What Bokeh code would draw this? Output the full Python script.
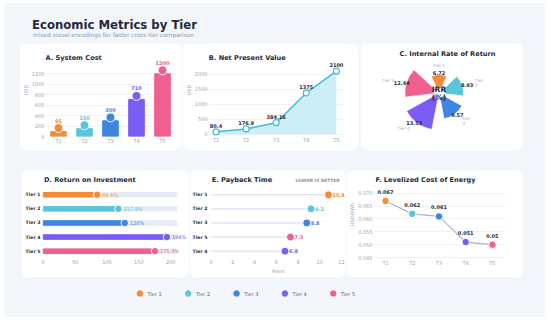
import numpy as np
from bokeh.plotting import figure
from bokeh.models import Range1d, FactorRange, Div, Spacer, FixedTicker, NumeralTickFormatter
from bokeh.layouts import column, row
from bokeh.embed import file_html
from bokeh.resources import INLINE
from bokeh.core.properties import value

# ---------------- data ----------------
tiers = ["T1", "T2", "T3", "T4", "T5"]
tier_names = ["Tier 1", "Tier 2", "Tier 3", "Tier 4", "Tier 5"]
colors = ["#f28c38", "#5bc5dc", "#3f86e0", "#7b5cf5", "#f0608e"]
system_cost = [95, 150, 300, 710, 1200]
npv = [80.4, 176.9, 384.16, 1375, 2100]
irr = [6.72, 8.93, 9.57, 13.53, 12.44]
roi = [84.6, 117.9, 128, 194, 175.3]
payback = [10.8, 9.2, 8.8, 6.8, 7.3]
lcoe = [0.067, 0.062, 0.061, 0.051, 0.05]

cost_ticks = [0, 200, 400, 600, 800, 1000, 1200]
npv_ticks = [0, 500, 1000, 1500, 2000]
roi_ticks = [0, 50, 100, 150, 200]
payback_ticks = [0, 2, 4, 6, 8, 10, 12]
lcoe_ticks = [0.045, 0.05, 0.055, 0.06, 0.065, 0.07]

FONT = "DejaVu Sans"
DARK = "#1f2a3d"
GREY = "#9aa3b2"
GRID = "#eef1f6"
PANEL = "#f3f6fb"


def base_fig(w, h, **kw):
    p = figure(width=w, height=h, output_backend="svg", toolbar_location=None, **kw)
    p.border_fill_color = "white"
    p.background_fill_color = "white"
    p.outline_line_color = None
    p.styles = {"border-radius": "8px", "overflow": "hidden"}
    return p


def text_title(p, x, y, text, x_off, y_off, align="left"):
    p.text(x=[x], y=[y], text=[text], x_offset=x_off, y_offset=y_off, text_align=align,
           text_baseline="alphabetic", text_font=value(FONT), text_font_size="6.6px",
           text_font_style="bold", text_color=DARK)


def style_axes(p):
    for ax in p.axis:
        ax.axis_line_color = None
        ax.major_tick_line_color = None
        ax.minor_tick_line_color = None
        ax.major_tick_out = 0
        ax.major_tick_in = 0
        ax.minor_tick_out = 0
        ax.minor_tick_in = 0
        ax.major_label_text_font = FONT
        ax.major_label_text_font_size = "5px"
        ax.major_label_text_color = GREY
        ax.major_label_standoff = 1
        ax.axis_label_text_font = FONT
        ax.axis_label_text_font_size = "5px"
        ax.axis_label_text_color = GREY
        ax.axis_label_text_font_style = "normal"
        ax.axis_label_standoff = 0
    p.grid.grid_line_color = GRID


idx = list(range(len(tiers)))
tick_map = {i: t for i, t in zip(idx, tiers)}

# ---------------- A. System Cost ----------------
pA = base_fig(163, 107, x_range=FactorRange(*tiers), y_range=Range1d(0, 1780),
              min_border_left=24, min_border_right=7, min_border_top=0, min_border_bottom=14)
pA.vbar(x=tiers, top=system_cost, width=0.6, color=colors)
marker_y = [c + 0.055 * max(system_cost) for c in system_cost]
pA.scatter(x=tiers, y=marker_y, size=9, fill_color=colors, line_color="white", line_width=1)
pA.text(x=tiers, y=system_cost, text=[str(c) for c in system_cost], y_offset=-11,
        text_align="center", text_baseline="middle", text_font=value(FONT),
        text_font_size="5px", text_font_style="bold", text_color=colors)
text_title(pA, 0, pA.y_range.end, "A. System Cost", 0, 14.3)
style_axes(pA)
pA.yaxis.ticker = FixedTicker(ticks=cost_ticks)
pA.yaxis.axis_label = "USD"
pA.xgrid.grid_line_color = None

# ---------------- B. Net Present Value ----------------
pB = base_fig(176, 107, x_range=Range1d(-0.25, 4.27), y_range=Range1d(-75, 3020),
              min_border_left=26, min_border_right=14, min_border_top=0, min_border_bottom=12)
cyan_line = "#4bb8d3"
pB.varea(x=idx, y1=0, y2=npv, fill_color="#cdeef7")
pB.line(idx, npv, line_color=cyan_line, line_width=1.5)
pB.scatter(idx, npv, size=6, fill_color="white", line_color=cyan_line, line_width=1.2)
pB.text(idx, npv, text=[f"{v:g}" for v in npv], y_offset=-6,
        text_align="center", text_baseline="middle", text_font=value(FONT),
        text_font_size="5px", text_font_style="bold", text_color=DARK)
text_title(pB, pB.x_range.start, pB.y_range.end, "B. Net Present Value", 0.3, 14.3)
style_axes(pB)
pB.yaxis.ticker = FixedTicker(ticks=npv_ticks)
pB.yaxis.axis_label = "USD"
pB.xaxis.ticker = FixedTicker(ticks=idx)
pB.xaxis.major_label_overrides = tick_map
pB.xaxis.major_label_standoff = 0
pB.xgrid.grid_line_color = None

# ---------------- C. Internal Rate of Return ----------------
pC = base_fig(163, 107, x_range=Range1d(-28.55, 30.73), y_range=Range1d(-18.18, 20.73),
              min_border_left=0, min_border_right=0, min_border_top=0, min_border_bottom=0)
pC.axis.visible = False
pC.grid.grid_line_color = None
ang = np.deg2rad(90 - 72 * np.array(idx))
half = np.deg2rad(25)
irr_arr = np.array(irr)
pC.annular_wedge(x=0, y=0, inner_radius=1.8, outer_radius=irr, start_angle=ang - half,
                 end_angle=ang + half, fill_color=colors, line_color="white", line_width=0.8)
rv = irr_arr + 1.8
pC.text(x=rv * np.cos(ang), y=rv * np.sin(ang), text=[f"{v:g}" for v in irr],
        text_align="center", text_baseline="middle", text_font=value(FONT),
        text_font_size="5px", text_font_style="bold", text_color=DARK)
rt = irr_arr + 4.8
cosv = np.cos(ang)
t_align = ["center" if abs(c) < 0.3 else ("left" if c > 0 else "right") for c in cosv]
t_text = [n.replace(" ", "\n") if c > 0.3 else n for n, c in zip(tier_names, cosv)]
pC.text(x=rt * np.cos(ang), y=rt * np.sin(ang), text=t_text, text_align=t_align,
        text_baseline="middle", text_font=value(FONT), text_font_size="4.3px",
        text_color="#a3abb8", text_line_height=1.1)
pC.text(x=[0, 0], y=[0, 0], text=["IRR", "(%)"], y_offset=[-3.5, 4.5],
        text_align="center", text_baseline="middle", text_font=value(FONT),
        text_font_size="7.5px", text_font_style="bold", text_color=DARK)
c_mid = (pC.x_range.start + pC.x_range.end) / 2
text_title(pC, c_mid, pC.y_range.end, "C. Internal Rate of Return", 5.5, 10.3, align="center")

# ---------------- D. Return on Investment ----------------
ypos_d = list(range(len(tier_names)))[::-1]
pD = base_fig(168, 107, x_range=Range1d(-1.1, 229.4), y_range=Range1d(-0.52, 5.72),
              min_border_left=21, min_border_right=0, min_border_top=0, min_border_bottom=19)
track = max(roi) * 1.08
pD.hbar(y=ypos_d, left=0, right=track, height=0.32, color="#e7ecf4")
pD.hbar(y=ypos_d, left=0, right=roi, height=0.32, color=colors)
pD.scatter(x=roi, y=ypos_d, size=7.5, fill_color=colors, line_color="white", line_width=1)
pD.text(x=roi, y=ypos_d, text=[f"{v:g}%" for v in roi], x_offset=5,
        text_align="left", text_baseline="middle", text_font=value(FONT),
        text_font_size="5px", text_color=colors)
text_title(pD, pD.x_range.start, pD.y_range.end, "D. Return on Investment", 1.5, 9.5)
style_axes(pD)
pD.grid.grid_line_color = None
pD.xaxis.ticker = FixedTicker(ticks=roi_ticks)
pD.yaxis.ticker = FixedTicker(ticks=ypos_d)
pD.yaxis.major_label_overrides = {y: n for y, n in zip(ypos_d, tier_names)}
pD.yaxis.major_label_text_font_style = "bold"
pD.yaxis.major_label_text_color = DARK
pD.yaxis.major_label_text_font_size = "4.6px"
pD.yaxis.major_label_standoff = 2

# ---------------- E. Payback Time ----------------
order = sorted(idx, key=lambda i: payback[i], reverse=True)
e_names = [tier_names[i] for i in order]
e_vals = [payback[i] for i in order]
e_cols = [colors[i] for i in order]
ypos = list(range(len(order)))[::-1]
pE = base_fig(157, 107, x_range=Range1d(-0.15, 12.46), y_range=Range1d(-0.52, 5.72),
              min_border_left=17, min_border_right=0, min_border_top=0, min_border_bottom=19)
pE.segment(x0=0, y0=ypos, x1=e_vals, y1=ypos, line_color="#e3e8f0", line_width=1.5)
pE.scatter(e_vals, ypos, size=8, fill_color=e_cols, line_color="white", line_width=1)
pE.text(e_vals, ypos, text=[f"{v:g}" for v in e_vals], x_offset=4,
        text_align="left", text_baseline="middle", text_font=value(FONT),
        text_font_size="5px", text_font_style="bold", text_color=e_cols)
text_title(pE, pE.x_range.start, pE.y_range.end, "E. Payback Time", 2.3, 9.5)
pE.text(x=[9.8], y=[pE.y_range.end], text=["LOWER IS BETTER"], y_offset=10,
        text_align="center", text_baseline="middle", text_font=value(FONT),
        text_font_size="4.4px", text_font_style="bold", text_color="#8b95a5")
style_axes(pE)
pE.grid.grid_line_color = None
pE.xaxis.ticker = FixedTicker(ticks=payback_ticks)
pE.xaxis.axis_label = "Years"
pE.xaxis.axis_label_standoff = 1
pE.yaxis.ticker = FixedTicker(ticks=ypos)
pE.yaxis.major_label_overrides = {y: n for y, n in zip(ypos, e_names)}
pE.yaxis.major_label_text_font_style = "bold"
pE.yaxis.major_label_text_color = DARK
pE.yaxis.major_label_text_font_size = "4.6px"
pE.yaxis.major_label_standoff = 2

# ---------------- F. Levelized Cost of Energy ----------------
pF = base_fig(177, 107, x_range=Range1d(-0.45, 4.49), y_range=Range1d(0.04462, 0.07887),
              min_border_left=27, min_border_right=18, min_border_top=0, min_border_bottom=17)
pF.line(idx, lcoe, line_color="#a9b4c4", line_width=1.2)
pF.scatter(idx, lcoe, size=7.5, fill_color=colors, line_color="white", line_width=1)
pF.text(idx, lcoe, text=[f"{v:g}" for v in lcoe], y_offset=-9,
        text_align="center", text_baseline="middle", text_font=value(FONT),
        text_font_size="5px", text_font_style="bold", text_color=DARK)
text_title(pF, pF.x_range.start, pF.y_range.end, "F. Levelized Cost of Energy", 2, 9.5)
style_axes(pF)
pF.xgrid.grid_line_color = None
pF.yaxis.ticker = FixedTicker(ticks=lcoe_ticks)
pF.yaxis.formatter = NumeralTickFormatter(format="0.000")
pF.yaxis.axis_label = "USD/kWh"
pF.xaxis.ticker = FixedTicker(ticks=idx)
pF.xaxis.major_label_overrides = tick_map

# ---------------- legend strip ----------------
pL = figure(width=541, height=40, output_backend="svg", toolbar_location=None,
            x_range=Range1d(-2.80, 8.39), y_range=Range1d(-1.5, 1.0), min_border=0,
            x_axis_location=None, y_axis_location=None)
pL.grid.grid_line_color = None
pL.outline_line_color = None
pL.background_fill_alpha = 0
pL.border_fill_alpha = 0
pL.scatter(x=idx, y=[0] * len(idx), size=5.5, fill_color=colors, line_color=colors)
pL.text(x=idx, y=[0] * len(idx), text=tier_names, x_offset=7.7, text_align="left",
        text_baseline="middle", text_font=value(FONT), text_font_size="5px",
        text_color="#5b6472")

# ---------------- header ----------------
header = Div(width=541, height=40, margin=0, text=(
    f'<div style="font-family:\'{FONT}\';font-weight:bold;font-size:11.7px;line-height:12px;'
    f'color:{DARK};margin:15.6px 0 0 28px;white-space:nowrap;">Economic Metrics by Tier</div>'
    f'<div style="font-family:\'{FONT}\';font-size:5.8px;line-height:6px;color:#8f98a8;'
    f'margin:1.5px 0 0 29px;white-space:nowrap;">mixed visual encodings for faster cross-tier comparison</div>'))

row1 = row(Spacer(width=15, height=107), pA, pB, Spacer(width=2, height=107), pC, spacing=0)
row2 = row(Spacer(width=17, height=107), pD, pE, pF, spacing=0)
panel = column(header, row1, Spacer(width=541, height=20), row2, pL, spacing=0,
               width=541, height=314, styles={"background-color": PANEL})
root = column(Spacer(width=550, height=3), row(Spacer(width=4, height=314), panel, spacing=0),
              spacing=0, width=550, height=317)

open("out.html", "w").write(file_html(root, INLINE))
